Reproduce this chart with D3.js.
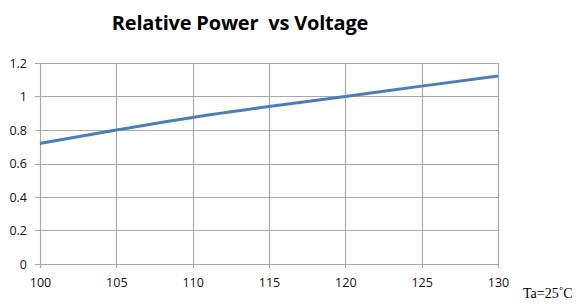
<!DOCTYPE html>
<html>
<head>
<meta charset="utf-8">
<script src="https://cdn.jsdelivr.net/npm/d3@7"></script>
<style>
  body { margin: 0; background: #fff; }
  svg { display: block; }
  .title { font-family: "Open Sans", "Noto Sans", sans-serif; font-weight: 700; font-size: 20px; white-space: pre; letter-spacing: -0.2px; }
  .note { font-family: "Liberation Serif", serif; font-size: 14px; }
</style>
</head>
<body>
<svg width="587" height="304"></svg>
<script>
"use strict";

const title = "Relative Power  vs Voltage";
const voltages = [100, 105, 110, 115, 120, 125, 130];
const power = [0.72, 0.80, 0.875, 0.94, 1.0, 1.062, 1.122];
const xTicks = [100, 105, 110, 115, 120, 125, 130];
const yTicks = [0, 0.2, 0.4, 0.6, 0.8, 1, 1.2];

const svg = d3.select("svg");
const margin = { top: 63, left: 40, right: 89, bottom: 40 };
const width = +svg.attr("width");
const height = +svg.attr("height");
const innerWidth = width - margin.left - margin.right;
const innerHeight = height - margin.top - margin.bottom;

const xScale = d3.scaleLinear().domain([100, 130]).range([0, innerWidth]);
const yScale = d3.scaleLinear().domain([0, 1.2]).range([innerHeight, 0]);

const g = svg.append("g")
  .attr("transform", `translate(${margin.left},${margin.top})`);

// grid
g.selectAll(".hgrid")
  .data(yTicks)
  .enter()
  .append("line")
  .attr("x1", -5)
  .attr("x2", innerWidth)
  .attr("y1", d => Math.round(yScale(d)) + 0.5)
  .attr("y2", d => Math.round(yScale(d)) + 0.5)
  .attr("stroke", "#a8a8a8")
  .attr("stroke-width", 1.2);

g.selectAll(".vgrid")
  .data(xTicks)
  .enter()
  .append("line")
  .attr("x1", d => Math.round(xScale(d)) + 0.5)
  .attr("x2", d => Math.round(xScale(d)) + 0.5)
  .attr("y1", 0)
  .attr("y2", innerHeight + 4)
  .attr("stroke", "#a8a8a8")
  .attr("stroke-width", 1.2);

const xAxis = d3.axisBottom(xScale)
  .tickValues(xTicks)
  .tickSize(0)
  .tickPadding(14)
  .tickFormat(d3.format("d"));

const yAxis = d3.axisLeft(yScale)
  .tickValues(yTicks)
  .tickSize(0)
  .tickPadding(13)
  .tickFormat(d => d3.format("~g")(d));

const styleAxis = sel => {
  sel.attr("font-family", "'Open Sans', 'Noto Sans', sans-serif")
    .attr("font-size", 12.5);
  sel.select(".domain").remove();
  sel.selectAll("text").attr("fill", "#111");
};

g.append("g")
  .attr("transform", `translate(0,${innerHeight})`)
  .call(xAxis)
  .call(styleAxis);

g.append("g")
  .call(yAxis)
  .call(styleAxis);

const line = d3.line()
  .x((d, i) => xScale(voltages[i]))
  .y(d => yScale(d))
  .curve(d3.curveMonotoneX);

g.append("path")
  .datum(power)
  .attr("d", line)
  .attr("fill", "none")
  .attr("stroke", "#4a7ebb")
  .attr("stroke-width", 3);

svg.append("text")
  .attr("class", "title")
  .attr("x", 240)
  .attr("y", 30)
  .attr("text-anchor", "middle")
  .text(title);

svg.append("text")
  .attr("class", "note")
  .attr("x", 523)
  .attr("y", 298)
  .text("Ta=25˚C");
</script>
</body>
</html>
